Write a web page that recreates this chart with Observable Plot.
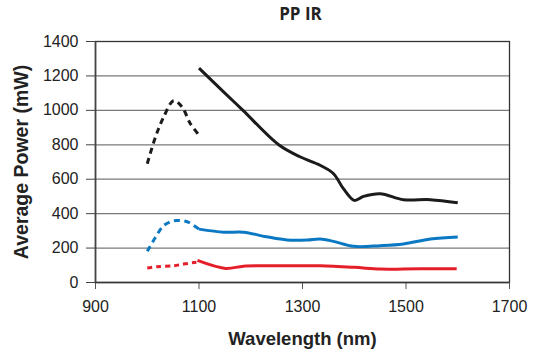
<!DOCTYPE html>
<html>
<head>
<meta charset="utf-8">
<script src="https://cdn.jsdelivr.net/npm/d3@7"></script>
<script src="https://cdn.jsdelivr.net/npm/@observablehq/plot@0.6"></script>
<style>
  html, body { margin: 0; padding: 0; background: #fff; }
  #chart svg { display: block; }
</style>
</head>
<body>
<div id="chart"></div>
<script>
// Tick values
const xTicks = [900, 1100, 1300, 1500, 1700];
const yTicks = [0, 200, 400, 600, 800, 1000, 1200, 1400];

// Black series (dashed below 1100 nm, solid above)
const blackDashedX = [1000, 1016, 1032, 1051, 1067, 1083, 1100];
const blackDashedY = [690, 846, 963, 1056, 1021, 924, 856];
const blackSolidX = [1100, 1150, 1185, 1254, 1296, 1334, 1360, 1379, 1400, 1418, 1450, 1495, 1547, 1600];
const blackSolidY = [1245, 1100, 1000, 800, 729, 681, 632, 545, 477, 500, 516, 481, 481, 463];

// Blue series
const blueDashedX = [1000, 1016, 1032, 1050, 1064, 1080, 1100];
const blueDashedY = [181, 263, 331, 358, 360, 349, 310];
const blueSolidX = [1100, 1148, 1186, 1230, 1270, 1309, 1334, 1360, 1399, 1450, 1495, 1547, 1600];
const blueSolidY = [310, 292, 292, 266, 247, 247, 253, 239, 210, 214, 224, 253, 265];

// Red series
const redDashedX = [1000, 1019, 1051, 1070, 1095];
const redDashedY = [84, 92, 97, 107, 118];
const redSolidX = [1097, 1151, 1186, 1250, 1334, 1400, 1450, 1495, 1547, 1598];
const redSolidY = [128, 82, 95, 97, 97, 88, 78, 78, 80, 80];

const zip = (xs, ys) => xs.map((x, i) => ({x, y: ys[i]}));

const colors = {black: "#1b1b1b", blue: "#0b78c4", red: "#e41f2a"};
const lw = 3;
const sans = "Liberation Sans, Arial, sans-serif";

const series = [
  {data: zip(blackDashedX, blackDashedY), color: colors.black, dash: "6,4.5"},
  {data: zip(blackSolidX, blackSolidY), color: colors.black, dash: null},
  {data: zip(blueDashedX, blueDashedY), color: colors.blue, dash: "6,4.5"},
  {data: zip(blueSolidX, blueSolidY), color: colors.blue, dash: null},
  {data: zip(redDashedX, redDashedY), color: colors.red, dash: "5,4"},
  {data: zip(redSolidX, redSolidY), color: colors.red, dash: null}
];

const lineMarks = series.map(s => Plot.line(s.data, {
  x: "x", y: "y",
  stroke: s.color,
  strokeWidth: lw,
  strokeDasharray: s.dash,
  curve: "catmull-rom",
  strokeLinecap: "butt"
}));

const chart = Plot.plot({
  width: 539,
  height: 354,
  marginLeft: 95,
  marginRight: 30,
  marginTop: 41,
  marginBottom: 72,
  style: {fontFamily: sans, fontSize: "16px", color: "#222", background: "#fff"},
  x: {domain: [900, 1700], ticks: xTicks, label: null},
  y: {domain: [0, 1400], ticks: yTicks, label: null},
  marks: [
    Plot.gridY(yTicks, {stroke: "#7a7a7a", strokeOpacity: 1, strokeWidth: 1.2}),
    Plot.frame({stroke: "#333", strokeWidth: 1.3}),
    Plot.axisX({ticks: xTicks, tickSize: 7, tickPadding: 11, fontSize: 16, fontFamily: sans, stroke: "#555", label: null, tickFormat: d => String(d)}),
    Plot.axisY({ticks: yTicks, tickSize: 9, tickPadding: 8, fontSize: 16, fontFamily: sans, stroke: "#444", label: null, tickFormat: d => String(d)}),
    Plot.ruleX([900], {stroke: "#444", strokeWidth: 1.6}),
    Plot.ruleY([0], {stroke: "#333", strokeWidth: 1.4}),
    ...lineMarks,
    Plot.text(["Average Power (mW)"], {frameAnchor: "left", textAnchor: "middle", lineAnchor: "middle", dx: -74, rotate: -90, fontSize: 19.5, fontWeight: "bold", fill: "#222", fontFamily: sans}),
    Plot.text(["Wavelength (nm)"], {frameAnchor: "bottom", lineAnchor: "middle", dy: 57, fontSize: 18.5, fontWeight: "bold", fill: "#222", fontFamily: sans}),
    Plot.text(["PP IR"], {frameAnchor: "top", lineAnchor: "middle", dy: -27, dx: -2, fontSize: 17, fontWeight: "bold", fill: "#222", fontFamily: "Open Sans, Noto Sans, sans-serif"})
  ]
});

document.getElementById("chart").appendChild(chart);
</script>
</body>
</html>
